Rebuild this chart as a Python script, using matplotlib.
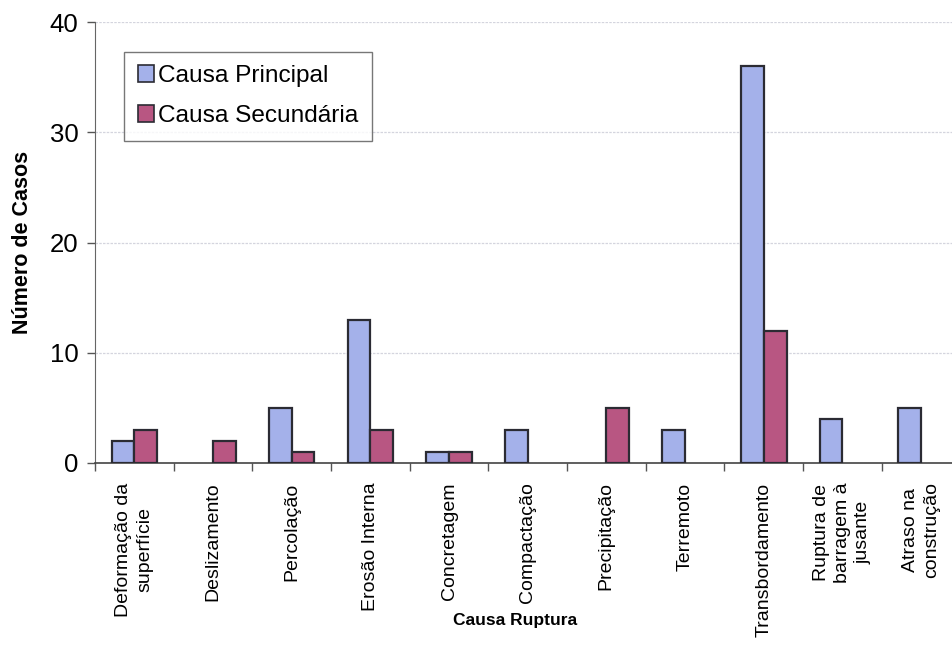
import matplotlib
matplotlib.use("Agg")
import matplotlib.pyplot as plt
import numpy as np

plt.rcParams['font.family'] = ['Liberation Sans', 'DejaVu Sans']

categories = [
    "Deformação da\nsuperfície",
    "Deslizamento",
    "Percolação",
    "Erosão Interna",
    "Concretagem",
    "Compactação",
    "Precipitação",
    "Terremoto",
    "Transbordamento",
    "Ruptura de\nbarragem à\njusante",
    "Atraso na\nconstrução",
]
causa_principal = [2, 0, 5, 13, 1, 3, 0, 3, 36, 4, 5]
causa_secundaria = [3, 2, 1, 3, 1, 0, 5, 0, 12, 0, 0]
y_ticks = [0, 10, 20, 30, 40]

blue = "#a4b1ea"
pink = "#b85682"
edge = "#2b2b33"

fig = plt.figure(figsize=(9.52, 6.58), dpi=100)
# the plot area runs slightly past the right edge of the figure
ax = fig.add_axes([0.0998, 0.2964, 0.909, 0.670])

x = np.arange(len(categories))
w = 0.29


def outline(values):
    # no outline for empty bars so that zero values leave no mark
    return [1.6 if v > 0 else 0 for v in values]


ax.bar(x - w / 2, causa_principal, width=w, color=blue, edgecolor=edge,
       linewidth=outline(causa_principal), label="Causa Principal", zorder=3)
ax.bar(x + w / 2, causa_secundaria, width=w, color=pink, edgecolor=edge,
       linewidth=outline(causa_secundaria), label="Causa Secundária", zorder=3)

ax.set_xlim(-0.5, len(categories) - 0.5)
ax.set_ylim(0, 40)
ax.set_yticks(y_ticks)
ax.tick_params(axis='y', labelsize=18.5, length=6, width=1, color="#555555", pad=6)

ax.set_xticks(x)
ax.set_xticklabels(categories, rotation=90, ha='center', va='top',
                   fontsize=14, multialignment='center', linespacing=1.3)
ax.tick_params(axis='x', which='major', length=0, pad=14)
ax.set_xticks(np.arange(-0.5, len(categories), 1.0), minor=True)
ax.tick_params(axis='x', which='minor', length=6, width=1, color="#555555")

ax.yaxis.grid(True, color="#d4d5de", linewidth=0.9, linestyle=(0, (2, 1)), zorder=0)
for s in ['top', 'right']:
    ax.spines[s].set_visible(False)
ax.spines['left'].set_color("#666666")
ax.spines['bottom'].set_color("#444444")
ax.spines['bottom'].set_linewidth(1.2)

ax.set_ylabel("Número de Casos", fontsize=15.5, fontweight='bold', labelpad=12)
fig.text(0.541, 0.057, "Causa Ruptura", fontsize=12.5, fontweight='bold',
         ha='center', va='center')

leg = ax.legend(loc='upper left', bbox_to_anchor=(0.034, 0.933), fontsize=17.6,
                frameon=True, fancybox=False, shadow=False, borderpad=0.55,
                handlelength=0.68, handleheight=0.68, handletextpad=0.15,
                labelspacing=0.74, borderaxespad=0)
leg.get_frame().set_edgecolor("#555555")
leg.get_frame().set_linewidth(1.0)
for h in leg.legend_handles:
    h.set_linewidth(1.2)

fig.savefig("out.png", dpi=100)
